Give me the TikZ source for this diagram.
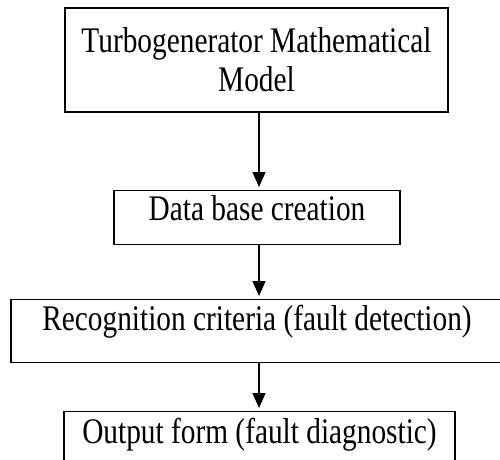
\documentclass[tikz,border=0pt]{standalone}
\usepackage{fontspec}
\setmainfont{Liberation Serif}
\usetikzlibrary{arrows.meta}

% narrow the lettering a little
\newcommand{\sqz}[1]{\scalebox{0.815}[1]{#1}}

\tikzset{
	stage/.style={draw, line width=1.2pt, inner sep=0pt, font=\fontsize{36}{39}\selectfont},
	flow/.style={-{Triangle[length=15pt,width=13pt]}, line width=1.3pt, shorten >=3pt},
}

\begin{document}
\begin{tikzpicture}[x=1pt,y=-1pt]
	\useasboundingbox (0,0) rectangle (500,459);
	\clip (0,0) rectangle (500,459);
	\coordinate (spine) at (259,0);
	% the four stages
	\node[stage, minimum width=383pt, minimum height=104pt, align=center] (model) at (256.5,60) {\sqz{Turbogenerator Mathematical}\\\sqz{Model}};
	\node[stage, minimum width=286pt, text height=30pt, text depth=24pt, anchor=north] (database) at (257,190) {\sqz{Data base creation}};
	\node[stage, minimum width=492pt, text height=31pt, text depth=32pt, anchor=north] (criteria) at (257,299) {\sqz{Recognition criteria (fault detection)}};
	\node[stage, minimum width=391pt, text height=32pt, text depth=40pt, anchor=north] (output) at (259.5,411) {\sqz{Output form (fault diagnostic)}};
	% arrows down the middle
	\draw[flow] (model.south -| spine) -- (database.north -| spine);
	\draw[flow] (database.south -| spine) -- (criteria.north -| spine);
	\draw[flow] (criteria.south -| spine) -- (output.north -| spine);
\end{tikzpicture}
\end{document}
